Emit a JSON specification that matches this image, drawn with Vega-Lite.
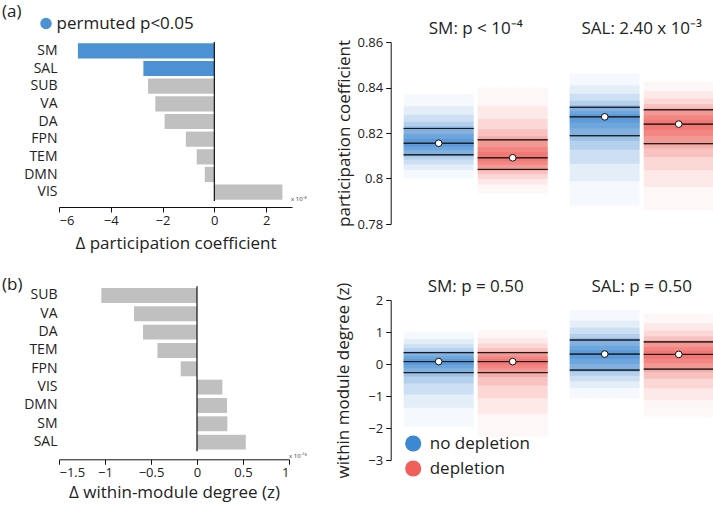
{
  "$schema": "https://vega.github.io/schema/vega-lite/v6.json",
  "padding": {"left": 2, "top": 3, "right": 0, "bottom": 6},
  "config": {
    "font": "Open Sans",
    "view": {"stroke": null},
    "axis": {"grid": false, "labelColor": "#222", "titleColor": "#222", "domainColor": "#111", "tickColor": "#111", "titleFontWeight": "normal", "labelFont": "Open Sans", "titleFont": "Open Sans", "labelOverlap": false},
    "legend": {"labelColor": "#222", "labelFont": "Open Sans", "labelFontSize": 17},
    "title": {"color": "#222", "fontWeight": "normal", "font": "Open Sans"}
  },
  "datasets": {
    "pcBars": [
      {"network": "SM", "delta": -5.27, "sig": "permuted p<0.05"},
      {"network": "SAL", "delta": -2.74, "sig": "permuted p<0.05"},
      {"network": "SUB", "delta": -2.56, "sig": "n.s."},
      {"network": "VA", "delta": -2.28, "sig": "n.s."},
      {"network": "DA", "delta": -1.92, "sig": "n.s."},
      {"network": "FPN", "delta": -1.10, "sig": "n.s."},
      {"network": "TEM", "delta": -0.68, "sig": "n.s."},
      {"network": "DMN", "delta": -0.37, "sig": "n.s."},
      {"network": "VIS", "delta": 2.63, "sig": "n.s."}
    ],
    "wmdBars": [
      {"network": "SUB", "delta": -1.04},
      {"network": "VA", "delta": -0.685},
      {"network": "DA", "delta": -0.587},
      {"network": "TEM", "delta": -0.43},
      {"network": "FPN", "delta": -0.177},
      {"network": "VIS", "delta": 0.276},
      {"network": "DMN", "delta": 0.326},
      {"network": "SM", "delta": 0.33},
      {"network": "SAL", "delta": 0.53}
    ],
    "pcDist": [
      {"network": "SM", "condition": "no depletion", "level": 1, "lo": 0.800, "hi": 0.837},
      {"network": "SM", "condition": "no depletion", "level": 2, "lo": 0.8036, "hi": 0.8318},
      {"network": "SM", "condition": "no depletion", "level": 3, "lo": 0.8062, "hi": 0.828},
      {"network": "SM", "condition": "no depletion", "level": 4, "lo": 0.8083, "hi": 0.825},
      {"network": "SM", "condition": "no depletion", "level": 5, "lo": 0.8097, "hi": 0.8231},
      {"network": "SM", "condition": "no depletion", "level": 6, "lo": 0.8104, "hi": 0.822},
      {"network": "SM", "condition": "no depletion", "level": 7, "lo": 0.8124, "hi": 0.8194},
      {"network": "SM", "condition": "no depletion", "level": 8, "lo": 0.814, "hi": 0.8175},
      {"network": "SM", "condition": "depletion", "level": 1, "lo": 0.7935, "hi": 0.840},
      {"network": "SM", "condition": "depletion", "level": 2, "lo": 0.7972, "hi": 0.832},
      {"network": "SM", "condition": "depletion", "level": 3, "lo": 0.7998, "hi": 0.8262},
      {"network": "SM", "condition": "depletion", "level": 4, "lo": 0.8019, "hi": 0.8216},
      {"network": "SM", "condition": "depletion", "level": 5, "lo": 0.8033, "hi": 0.8186},
      {"network": "SM", "condition": "depletion", "level": 6, "lo": 0.804, "hi": 0.817},
      {"network": "SM", "condition": "depletion", "level": 7, "lo": 0.806, "hi": 0.8138},
      {"network": "SM", "condition": "depletion", "level": 8, "lo": 0.8076, "hi": 0.8115},
      {"network": "SAL", "condition": "no depletion", "level": 1, "lo": 0.788, "hi": 0.846},
      {"network": "SAL", "condition": "no depletion", "level": 2, "lo": 0.7988, "hi": 0.8409},
      {"network": "SAL", "condition": "no depletion", "level": 3, "lo": 0.8065, "hi": 0.8372},
      {"network": "SAL", "condition": "no depletion", "level": 4, "lo": 0.8126, "hi": 0.8342},
      {"network": "SAL", "condition": "no depletion", "level": 5, "lo": 0.8166, "hi": 0.8323},
      {"network": "SAL", "condition": "no depletion", "level": 6, "lo": 0.8188, "hi": 0.8313},
      {"network": "SAL", "condition": "no depletion", "level": 7, "lo": 0.8221, "hi": 0.8296},
      {"network": "SAL", "condition": "no depletion", "level": 8, "lo": 0.8246, "hi": 0.8284},
      {"network": "SAL", "condition": "depletion", "level": 1, "lo": 0.786, "hi": 0.8426},
      {"network": "SAL", "condition": "depletion", "level": 2, "lo": 0.7963, "hi": 0.8383},
      {"network": "SAL", "condition": "depletion", "level": 3, "lo": 0.8036, "hi": 0.8352},
      {"network": "SAL", "condition": "depletion", "level": 4, "lo": 0.8094, "hi": 0.8327},
      {"network": "SAL", "condition": "depletion", "level": 5, "lo": 0.8133, "hi": 0.8311},
      {"network": "SAL", "condition": "depletion", "level": 6, "lo": 0.8153, "hi": 0.8302},
      {"network": "SAL", "condition": "depletion", "level": 7, "lo": 0.8187, "hi": 0.8277},
      {"network": "SAL", "condition": "depletion", "level": 8, "lo": 0.8213, "hi": 0.8258}
    ],
    "pcStats": [
      {"network": "SM", "condition": "no depletion", "stat": "q1", "value": 0.8104},
      {"network": "SM", "condition": "no depletion", "stat": "median", "value": 0.8155},
      {"network": "SM", "condition": "no depletion", "stat": "q3", "value": 0.822},
      {"network": "SM", "condition": "depletion", "stat": "q1", "value": 0.804},
      {"network": "SM", "condition": "depletion", "stat": "median", "value": 0.8091},
      {"network": "SM", "condition": "depletion", "stat": "q3", "value": 0.817},
      {"network": "SAL", "condition": "no depletion", "stat": "q1", "value": 0.8188},
      {"network": "SAL", "condition": "no depletion", "stat": "median", "value": 0.8271},
      {"network": "SAL", "condition": "no depletion", "stat": "q3", "value": 0.8313},
      {"network": "SAL", "condition": "depletion", "stat": "q1", "value": 0.8153},
      {"network": "SAL", "condition": "depletion", "stat": "median", "value": 0.8239},
      {"network": "SAL", "condition": "depletion", "stat": "q3", "value": 0.8302}
    ],
    "wmdDist": [
      {"network": "SM", "condition": "no depletion", "level": 1, "lo": -1.96, "hi": 1.01},
      {"network": "SM", "condition": "no depletion", "level": 2, "lo": -1.37, "hi": 0.78},
      {"network": "SM", "condition": "no depletion", "level": 3, "lo": -0.95, "hi": 0.62},
      {"network": "SM", "condition": "no depletion", "level": 4, "lo": -0.61, "hi": 0.49},
      {"network": "SM", "condition": "no depletion", "level": 5, "lo": -0.39, "hi": 0.40},
      {"network": "SM", "condition": "no depletion", "level": 6, "lo": -0.27, "hi": 0.355},
      {"network": "SM", "condition": "no depletion", "level": 7, "lo": -0.13, "hi": 0.24},
      {"network": "SM", "condition": "no depletion", "level": 8, "lo": -0.03, "hi": 0.16},
      {"network": "SM", "condition": "depletion", "level": 1, "lo": -2.27, "hi": 1.06},
      {"network": "SM", "condition": "depletion", "level": 2, "lo": -1.57, "hi": 0.81},
      {"network": "SM", "condition": "depletion", "level": 3, "lo": -1.07, "hi": 0.64},
      {"network": "SM", "condition": "depletion", "level": 4, "lo": -0.67, "hi": 0.50},
      {"network": "SM", "condition": "depletion", "level": 5, "lo": -0.41, "hi": 0.40},
      {"network": "SM", "condition": "depletion", "level": 6, "lo": -0.27, "hi": 0.355},
      {"network": "SM", "condition": "depletion", "level": 7, "lo": -0.13, "hi": 0.24},
      {"network": "SM", "condition": "depletion", "level": 8, "lo": -0.03, "hi": 0.16},
      {"network": "SAL", "condition": "no depletion", "level": 1, "lo": -1.07, "hi": 1.69},
      {"network": "SAL", "condition": "no depletion", "level": 2, "lo": -0.76, "hi": 1.36},
      {"network": "SAL", "condition": "no depletion", "level": 3, "lo": -0.54, "hi": 1.13},
      {"network": "SAL", "condition": "no depletion", "level": 4, "lo": -0.37, "hi": 0.94},
      {"network": "SAL", "condition": "no depletion", "level": 5, "lo": -0.25, "hi": 0.82},
      {"network": "SAL", "condition": "no depletion", "level": 6, "lo": -0.19, "hi": 0.75},
      {"network": "SAL", "condition": "no depletion", "level": 7, "lo": 0.01, "hi": 0.57},
      {"network": "SAL", "condition": "no depletion", "level": 8, "lo": 0.16, "hi": 0.44},
      {"network": "SAL", "condition": "depletion", "level": 1, "lo": -1.65, "hi": 1.58},
      {"network": "SAL", "condition": "depletion", "level": 2, "lo": -1.13, "hi": 1.27},
      {"network": "SAL", "condition": "depletion", "level": 3, "lo": -0.76, "hi": 1.05},
      {"network": "SAL", "condition": "depletion", "level": 4, "lo": -0.46, "hi": 0.87},
      {"network": "SAL", "condition": "depletion", "level": 5, "lo": -0.26, "hi": 0.75},
      {"network": "SAL", "condition": "depletion", "level": 6, "lo": -0.16, "hi": 0.69},
      {"network": "SAL", "condition": "depletion", "level": 7, "lo": 0.02, "hi": 0.53},
      {"network": "SAL", "condition": "depletion", "level": 8, "lo": 0.16, "hi": 0.42}
    ],
    "wmdStats": [
      {"network": "SM", "condition": "no depletion", "stat": "q1", "value": -0.27},
      {"network": "SM", "condition": "no depletion", "stat": "median", "value": 0.075},
      {"network": "SM", "condition": "no depletion", "stat": "q3", "value": 0.355},
      {"network": "SM", "condition": "depletion", "stat": "q1", "value": -0.27},
      {"network": "SM", "condition": "depletion", "stat": "median", "value": 0.075},
      {"network": "SM", "condition": "depletion", "stat": "q3", "value": 0.355},
      {"network": "SAL", "condition": "no depletion", "stat": "q1", "value": -0.19},
      {"network": "SAL", "condition": "no depletion", "stat": "median", "value": 0.31},
      {"network": "SAL", "condition": "no depletion", "stat": "q3", "value": 0.75},
      {"network": "SAL", "condition": "depletion", "stat": "q1", "value": -0.16},
      {"network": "SAL", "condition": "depletion", "stat": "median", "value": 0.30},
      {"network": "SAL", "condition": "depletion", "stat": "q3", "value": 0.69}
    ]
  },
  "bounds": "flush",
  "spacing": 344.7,
  "resolve": {"scale": {"x": "independent", "y": "independent", "color": "independent", "opacity": "independent"}, "legend": {"color": "independent", "opacity": "independent"}},
  "hconcat": [
    {
      "bounds": "flush",
      "spacing": 85.3,
      "resolve": {"scale": {"x": "independent", "y": "independent", "color": "independent"}, "legend": {"color": "independent"}},
      "vconcat": [
        {
          "width": 233,
          "height": 159,
          "title": {"text": "(a)", "anchor": "start", "frame": "group", "fontSize": 17, "dx": -57, "offset": -6},
          "layer": [
            {
              "data": {"name": "pcBars"},
              "mark": {"type": "bar"},
              "encoding": {
                "y": {"field": "network", "type": "nominal", "scale": {"domain": ["SM", "SAL", "SUB", "VA", "DA", "FPN", "TEM", "DMN", "VIS"], "paddingInner": 0.14, "paddingOuter": 0.07},
                  "axis": {"title": null, "domain": false, "ticks": false, "labelFontSize": 14, "labelPadding": 2}},
                "x": {"field": "delta", "type": "quantitative", "scale": {"domain": [-6, 3], "nice": false},
                  "axis": {"title": "Δ participation coefficient", "values": [-6, -5, -4, -3, -2, -1, 0, 1, 2, 3], "labelOverlap": false, "tickSize": 5, "offset": 6, "labelFontSize": 13, "labelPadding": 2, "titleFontSize": 17, "titlePadding": 8}},
                "color": {"field": "sig", "type": "nominal", "scale": {"domain": ["permuted p<0.05", "n.s."], "range": ["#4b91d3", "#c0c0c0"]},
                  "legend": {"values": ["permuted p<0.05"], "title": null, "orient": "none", "legendX": -21.5, "legendY": -27, "symbolType": "circle", "symbolSize": 130, "symbolStrokeWidth": 0, "symbolOpacity": 1, "labelFontSize": 17, "labelOffset": 2, "padding": 0}}
              }
            },
            {
              "data": {"values": [{"zero": 0}]},
              "mark": {"type": "rule", "color": "#111", "strokeWidth": 1.2},
              "encoding": {"x": {"field": "zero", "type": "quantitative"}}
            },
            {
              "data": {"values": [{"note": "x 10⁻³", "xpos": 3, "ypos": "VIS"}]},
              "mark": {"type": "text", "fontSize": 6, "align": "left", "baseline": "middle", "dx": -1, "dy": 7, "color": "#333"},
              "encoding": {"x": {"field": "xpos", "type": "quantitative"}, "y": {"field": "ypos", "type": "nominal"}, "text": {"field": "note"}}
            }
          ]
        },
        {
          "width": 230,
          "height": 165,
          "title": {"text": "(b)", "anchor": "start", "frame": "group", "fontSize": 17, "dx": -57, "offset": -8},
          "layer": [
            {
              "data": {"name": "wmdBars"},
              "mark": {"type": "bar", "color": "#c0c0c0"},
              "encoding": {
                "y": {"field": "network", "type": "nominal", "scale": {"domain": ["SUB", "VA", "DA", "TEM", "FPN", "VIS", "DMN", "SM", "SAL"], "paddingInner": 0.186, "paddingOuter": 0.093},
                  "axis": {"title": null, "domain": false, "ticks": false, "labelFontSize": 14, "labelPadding": 2}},
                "x": {"field": "delta", "type": "quantitative", "scale": {"domain": [-1.5, 1], "nice": false},
                  "axis": {"title": "Δ within-module degree (z)", "values": [-1.5, -1, -0.5, 0, 0.5, 1], "labelOverlap": false, "format": "~f", "tickSize": 5, "offset": 8, "labelFontSize": 13, "labelPadding": 2, "titleFontSize": 17, "titlePadding": 5}}
              }
            },
            {
              "data": {"values": [{"zero": 0}]},
              "mark": {"type": "rule", "color": "#111", "strokeWidth": 1.2},
              "encoding": {"x": {"field": "zero", "type": "quantitative"}}
            },
            {
              "data": {"values": [{"note": "x 10⁻¹⁶", "xpos": 1, "ypos": "SAL"}]},
              "mark": {"type": "text", "fontSize": 6, "align": "left", "baseline": "middle", "dx": 0, "dy": 14, "color": "#333"},
              "encoding": {"x": {"field": "xpos", "type": "quantitative"}, "y": {"field": "ypos", "type": "nominal"}, "text": {"field": "note"}}
            }
          ]
        }
      ]
    },
    {
      "bounds": "flush",
      "spacing": 76,
      "resolve": {"scale": {"x": "independent", "y": "independent", "color": "independent", "opacity": "independent"}, "legend": {"color": "independent", "opacity": "independent"}},
      "vconcat": [
        {
          "width": 310,
          "height": 182,
          "encoding": {
            "x": {"field": "network", "type": "nominal", "sort": null, "scale": {"domain": ["SM", "SAL"], "paddingInner": 0.133, "paddingOuter": 0},
              "axis": {"orient": "top", "title": null, "domain": false, "ticks": false, "labelAngle": 0, "labelFontSize": 17, "labelPadding": 5,
                "labelExpr": "datum.value === 'SM' ? 'SM: p < 10⁻⁴' : 'SAL: 2.40 x 10⁻³'"}},
            "xOffset": {"field": "condition", "type": "nominal", "scale": {"domain": ["no depletion", "depletion"], "paddingInner": 0.055, "paddingOuter": 0}}
          },
          "layer": [
            {
              "data": {"name": "pcDist"},
              "mark": {"type": "bar"},
              "encoding": {
                "y": {"field": "lo", "type": "quantitative", "scale": {"domain": [0.78, 0.86], "nice": false, "zero": false},
                  "axis": {"title": "participation coefficient", "values": [0.78, 0.8, 0.82, 0.84, 0.86], "labelOverlap": false, "format": "~f", "tickSize": 5, "offset": 13, "labelFontSize": 13, "labelPadding": 3, "titleFontSize": 17, "titlePadding": 3}},
                "y2": {"field": "hi"},
                "color": {"field": "condition", "type": "nominal", "scale": {"domain": ["no depletion", "depletion"], "range": ["#3d88d2", "#f05f5a"]}, "legend": null},
                "opacity": {"field": "level", "type": "quantitative", "scale": {"domain": [1, 8], "range": [0.05, 0.34]}, "legend": null}
              }
            },
            {
              "data": {"name": "pcStats"},
              "mark": {"type": "bar", "filled": false, "stroke": "#1a1a1a", "strokeWidth": 1},
              "encoding": {"y": {"field": "value", "type": "quantitative", "axis": {"title": "participation coefficient", "values": [0.78, 0.8, 0.82, 0.84, 0.86], "labelOverlap": false, "format": "~f", "tickSize": 5, "offset": 13, "labelFontSize": 13, "labelPadding": 3, "titleFontSize": 17, "titlePadding": 3}}, "y2": {"field": "value"}}
            },
            {
              "data": {"name": "pcStats"},
              "transform": [{"filter": "datum.stat === 'median'"}],
              "mark": {"type": "point", "filled": true, "fill": "white", "stroke": "#111", "strokeWidth": 1, "size": 45, "opacity": 1},
              "encoding": {"y": {"field": "value", "type": "quantitative", "axis": {"title": "participation coefficient", "values": [0.78, 0.8, 0.82, 0.84, 0.86], "labelOverlap": false, "format": "~f", "tickSize": 5, "offset": 13, "labelFontSize": 13, "labelPadding": 3, "titleFontSize": 17, "titlePadding": 3}}}
            }
          ]
        },
        {
          "width": 310,
          "height": 160,
          "encoding": {
            "x": {"field": "network", "type": "nominal", "sort": null, "scale": {"domain": ["SM", "SAL"], "paddingInner": 0.133, "paddingOuter": 0},
              "axis": {"orient": "top", "title": null, "domain": false, "ticks": false, "labelAngle": 0, "labelFontSize": 17, "labelPadding": 5,
                "labelExpr": "datum.value === 'SM' ? 'SM: p = 0.50' : 'SAL: p = 0.50'"}},
            "xOffset": {"field": "condition", "type": "nominal", "scale": {"domain": ["no depletion", "depletion"], "paddingInner": 0.055, "paddingOuter": 0}}
          },
          "layer": [
            {
              "data": {"name": "wmdDist"},
              "mark": {"type": "bar"},
              "encoding": {
                "y": {"field": "lo", "type": "quantitative", "scale": {"domain": [-3, 2], "nice": false, "zero": false},
                  "axis": {"title": "within module degree (z)", "values": [-3, -2, -1, 0, 1, 2], "labelOverlap": false, "tickSize": 5, "offset": 13, "labelFontSize": 13, "labelPadding": 3, "titleFontSize": 17, "titlePadding": 15}},
                "y2": {"field": "hi"},
                "color": {"field": "condition", "type": "nominal", "scale": {"domain": ["no depletion", "depletion"], "range": ["#3d88d2", "#f05f5a"]},
                  "legend": {"title": null, "orient": "none", "legendX": 1, "legendY": 135, "symbolType": "circle", "symbolSize": 260, "symbolOpacity": 1, "symbolStrokeWidth": 0, "labelFontSize": 17, "labelOffset": 8, "rowPadding": 7, "padding": 0}},
                "opacity": {"field": "level", "type": "quantitative", "scale": {"domain": [1, 8], "range": [0.05, 0.34]}, "legend": null}
              }
            },
            {
              "data": {"name": "wmdStats"},
              "mark": {"type": "bar", "filled": false, "stroke": "#1a1a1a", "strokeWidth": 1},
              "encoding": {"y": {"field": "value", "type": "quantitative", "axis": {"title": "within module degree (z)", "values": [-3, -2, -1, 0, 1, 2], "labelOverlap": false, "tickSize": 5, "offset": 13, "labelFontSize": 13, "labelPadding": 3, "titleFontSize": 17, "titlePadding": 15}}, "y2": {"field": "value"}}
            },
            {
              "data": {"name": "wmdStats"},
              "transform": [{"filter": "datum.stat === 'median'"}],
              "mark": {"type": "point", "filled": true, "fill": "white", "stroke": "#111", "strokeWidth": 1, "size": 45, "opacity": 1},
              "encoding": {"y": {"field": "value", "type": "quantitative", "axis": {"title": "within module degree (z)", "values": [-3, -2, -1, 0, 1, 2], "labelOverlap": false, "tickSize": 5, "offset": 13, "labelFontSize": 13, "labelPadding": 3, "titleFontSize": 17, "titlePadding": 15}}}
            }
          ]
        }
      ]
    }
  ]
}
